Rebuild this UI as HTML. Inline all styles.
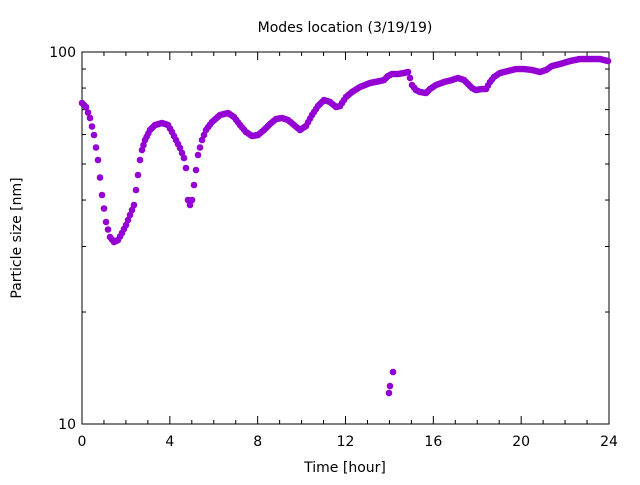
<!DOCTYPE html>
<html><head><meta charset="utf-8"><style>
body{margin:0;background:#fff}
svg text{font-family:"DejaVu Sans","Liberation Sans",sans-serif;font-size:14px;fill:#000}
</style></head><body>
<svg id="s" width="640" height="480" xmlns="http://www.w3.org/2000/svg">
<rect x="82" y="52" width="527" height="372" fill="none" stroke="#000" stroke-width="1"/>
<g id="ticks" stroke="#000" stroke-width="1"></g>
<text x="345" y="32" text-anchor="middle">Modes location (3/19/19)</text>
<text x="345" y="472" text-anchor="middle">Time [hour]</text>
<text transform="translate(21,238) rotate(-90)" text-anchor="middle">Particle size [nm]</text>
<text x="76" y="57" text-anchor="end">100</text>
<text x="76" y="429" text-anchor="end">10</text>
<g id="xl"></g>
<g id="pts" fill="#9400d3" stroke="#9400d3"></g>
</svg>
<script>
var NS="http://www.w3.org/2000/svg";
var t=document.getElementById("ticks"),xl=document.getElementById("xl"),P=document.getElementById("pts");
function ln(x1,y1,x2,y2){var l=document.createElementNS(NS,"line");l.setAttribute("x1",x1);l.setAttribute("y1",y1);l.setAttribute("x2",x2);l.setAttribute("y2",y2);t.appendChild(l);}
for(var h=0;h<=24;h+=1){var x=82+h*527/24;var L=(h%4==0)?8:4;ln(x,424,x,424-L);ln(x,52,x,52+L);
 if(h%4==0){var tx=document.createElementNS(NS,"text");tx.setAttribute("x",x);tx.setAttribute("y",446);tx.setAttribute("text-anchor","middle");tx.textContent=h;xl.appendChild(tx);}}
for(var v=20;v<=90;v+=10){var y=424-372*Math.log10(v/10);ln(82,y,86,y);ln(609,y,605,y);}
ln(82,52,90,52);ln(609,52,601,52);ln(82,424,90,424);ln(609,424,601,424);
var k=[[82,103],[86,107],[90,118],[94,135],[98,160],[102,195],[106,222],[110,237],[114,242],[118,240],[122,233],[126,225],[130,215],[134,205],[136,190],[138,175],[140,160],[142,150],[145,140],[150,130],[155,125],[162,123],[168,125],[172,132],[176,140],[180,148],[184,158],[186,168],[188,200],[190,205],[192,200],[194,185],[196,170],[198,155],[202,140],[206,130],[212,122],[220,115],[228,113],[234,117],[240,125],[246,132],[252,136],[258,135],[264,130],[270,124],[276,119],[282,118],[288,120],[294,125],[300,130],[306,126],[312,115],[318,106],[324,100],[330,102],[336,107],[340,106],[346,97],[352,92],[360,87],[370,83],[380,81],[384,80],[388,76],[392,74],[398,74],[404,73],[408,72],[410,78],[412,85],[416,90],[420,92],[426,93],[430,89],[436,85],[444,82],[452,80],[458,78],[464,80],[468,84],[472,88],[476,90],[482,89],[486,89],[490,82],[494,77],[500,73],[508,71],[516,69],[524,69],[532,70],[540,72],[546,70],[552,66],[560,64],[570,61],[580,59],[590,59],[600,59],[608,61]];
function dot(x,y){var c=document.createElementNS(NS,"circle");c.setAttribute("cx",x);c.setAttribute("cy",y);c.setAttribute("r",2.8);P.appendChild(c);}
for(var i=0;i<k.length-1;i++){var a=k[i],b=k[i+1],n=Math.max(1,Math.round((b[0]-a[0])/1.8));for(var j=0;j<n;j++){var f=j/n;dot(a[0]+(b[0]-a[0])*f,a[1]+(b[1]-a[1])*f);}}
dot(608,61);dot(389,393);dot(390,386);dot(393,372);
</script>
</body></html>
